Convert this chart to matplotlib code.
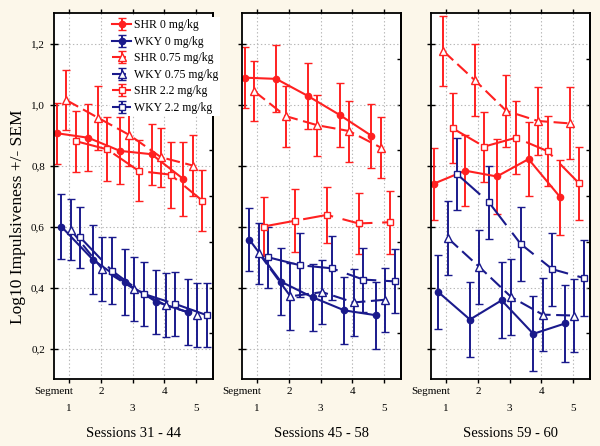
import numpy as np
import matplotlib
matplotlib.use('Agg')
import matplotlib.pyplot as plt

plt.rcParams['font.family'] = ['Liberation Serif', 'DejaVu Serif']
plt.rcParams['lines.scale_dashes'] = False

sessions = ['Sessions 31 - 44', 'Sessions 45 - 58', 'Sessions 59 - 60']
segments = [1, 2, 3, 4, 5]
labels = ['SHR 0 mg/kg', 'WKY 0 mg/kg', 'SHR 0.75 mg/kg',
          'WKY 0.75 mg/kg', 'SHR 2.2 mg/kg', 'WKY 2.2 mg/kg']

# means per session block (3 blocks x 5 segments)
shr_0 = [[0.906, 0.891, 0.848, 0.837, 0.756],
         [1.088, 1.084, 1.028, 0.966, 0.898],
         [0.740, 0.783, 0.764, 0.821, 0.696]]
shr_0_sem = [[0.10, 0.11, 0.11, 0.10, 0.12],
             [0.10, 0.11, 0.107, 0.105, 0.105],
             [0.118, 0.117, 0.123, 0.12, 0.123]]
wky_0 = [[0.600, 0.491, 0.418, 0.353, 0.319],
         [0.557, 0.419, 0.368, 0.325, 0.309],
         [0.385, 0.295, 0.358, 0.248, 0.282]]
wky_0_sem = [[0.105, 0.113, 0.108, 0.106, 0.108],
             [0.104, 0.11, 0.11, 0.11, 0.11],
             [0.12, 0.123, 0.125, 0.123, 0.125]]
shr_075 = [[1.015, 0.957, 0.900, 0.827, 0.800],
           [1.044, 0.962, 0.932, 0.913, 0.859],
           [1.176, 1.080, 0.979, 0.946, 0.938]]
shr_075_sem = [[0.098, 0.105, 0.10, 0.097, 0.10],
               [0.098, 0.10, 0.10, 0.10, 0.10],
               [0.115, 0.117, 0.118, 0.113, 0.118]]
wky_075 = [[0.589, 0.460, 0.395, 0.342, 0.309],
           [0.513, 0.371, 0.385, 0.351, 0.360],
           [0.562, 0.467, 0.369, 0.311, 0.308]]
wky_075_sem = [[0.10, 0.105, 0.105, 0.105, 0.105],
               [0.10, 0.11, 0.105, 0.11, 0.105],
               [0.12, 0.12, 0.124, 0.12, 0.12]]
shr_22 = [[0.880, 0.853, 0.782, 0.770, 0.685],
          [0.600, 0.619, 0.638, 0.610, 0.614],
          [0.922, 0.862, 0.891, 0.847, 0.741]]
shr_22_sem = [[0.10, 0.105, 0.10, 0.108, 0.10],
              [0.097, 0.104, 0.092, 0.10, 0.103],
              [0.115, 0.115, 0.12, 0.115, 0.12]]
wky_22 = [[0.564, 0.455, 0.379, 0.346, 0.309],
          [0.499, 0.473, 0.463, 0.426, 0.420],
          [0.771, 0.679, 0.543, 0.460, 0.431]]
wky_22_sem = [[0.10, 0.11, 0.105, 0.105, 0.105],
              [0.10, 0.105, 0.105, 0.105, 0.105],
              [0.118, 0.12, 0.122, 0.12, 0.124]]

red = '#ff2020'
blue = '#1a1a8c'
bg = '#fcf7ea'

series = [
    (shr_0, shr_0_sem, red, 'o', 'full', (None, None)),
    (wky_0, wky_0_sem, blue, 'o', 'full', (None, None)),
    (shr_075, shr_075_sem, red, '^', 'none', (10, 4)),
    (wky_075, wky_075_sem, blue, '^', 'none', (10, 4)),
    (shr_22, shr_22_sem, red, 's', 'none', (22, 7)),
    (wky_22, wky_22_sem, blue, 's', 'none', (22, 7)),
]

fig = plt.figure(figsize=(6, 4.46), dpi=100, facecolor=bg)
lefts = [54, 242, 431]
handles = []
for p in range(3):
    ax = fig.add_axes([lefts[p] / 600, 1 - 379 / 446, 159 / 600, 366 / 446])
    ax.set_facecolor('white')
    for i, (mean, sem, col, mk, fill, dash) in enumerate(series):
        x = np.array(segments) - 0.40 + 0.15 * i
        eb = ax.errorbar(x, mean[p], yerr=sem[p], color=col, lw=1.5, elinewidth=1.4,
                         capsize=2.6, capthick=1.3, marker=mk, ms=4.5 if mk != '^' else 5.5,
                         mfc=col if fill == 'full' else 'white', mec=col, mew=1.0,
                         label=labels[i])
        if dash[0] is not None:
            eb.lines[0].set_dashes(dash)
        if p == 0:
            handles.append(eb)
    ax.set_xlim(0.52, 5.54)
    ax.set_ylim(0.1, 1.3)
    # even segments on the first label row, odd ones on the second
    ax.set_xticks([2, 4])
    ax.set_xticklabels(['2', '4'], fontsize=8)
    ax.set_xticks([1, 3, 5], minor=True)
    ax.set_xticklabels(['1', '3', '5'], minor=True, fontsize=8)
    ax.tick_params(axis='x', which='major', direction='out', length=3, width=1, top=True, pad=3)
    ax.tick_params(axis='x', which='minor', direction='out', length=3, width=1, top=True, pad=15)
    ax.set_yticks([0.2, 0.4, 0.6, 0.8, 1.0, 1.2])
    if p == 0:
        ax.set_yticklabels(['0,2', '0,4', '0,6', '0,8', '1,0', '1,2'], fontsize=8)
    else:
        ax.set_yticklabels([])
    ax.tick_params(axis='y', direction='inout', length=6, width=1)
    sec = ax.secondary_yaxis('right')
    sec.set_yticks(np.arange(0.25, 1.2, 0.15))
    sec.set_yticklabels([])
    sec.tick_params(direction='in', length=3, width=1)
    for s in ax.spines.values():
        s.set_linewidth(1.3)
    sec.spines['right'].set_linewidth(1.3)
    ax.grid(True, which='both', color='#b8b8b8', ls=':', lw=0.8)
    ax.set_axisbelow(True)
    ax.annotate('Segment', xy=(0, 0), xycoords='axes fraction', xytext=(0, -9),
                textcoords='offset points', ha='center', va='center', fontsize=8)
    ax.annotate(sessions[p], xy=(0.5, 0), xycoords='axes fraction', xytext=(0, -39),
                textcoords='offset points', ha='center', va='center', fontsize=10.5)

fig.axes[0].legend(handles=handles, loc='upper left', bbox_to_anchor=(110 / 600, 1 - 17 / 446),
                   bbox_transform=fig.transFigure, fontsize=8.5, frameon=True,
                   facecolor='white', edgecolor='none', framealpha=1, fancybox=False,
                   handlelength=1.6, handletextpad=0.2, labelspacing=0.38,
                   borderpad=0.2, borderaxespad=0)

fig.text(18 / 600, 1 - 217 / 446, 'Log10 Impulsiveness +/- SEM', rotation=90,
         ha='center', va='center', fontsize=12.5)

fig.savefig('out.png', dpi=100, facecolor=bg)
